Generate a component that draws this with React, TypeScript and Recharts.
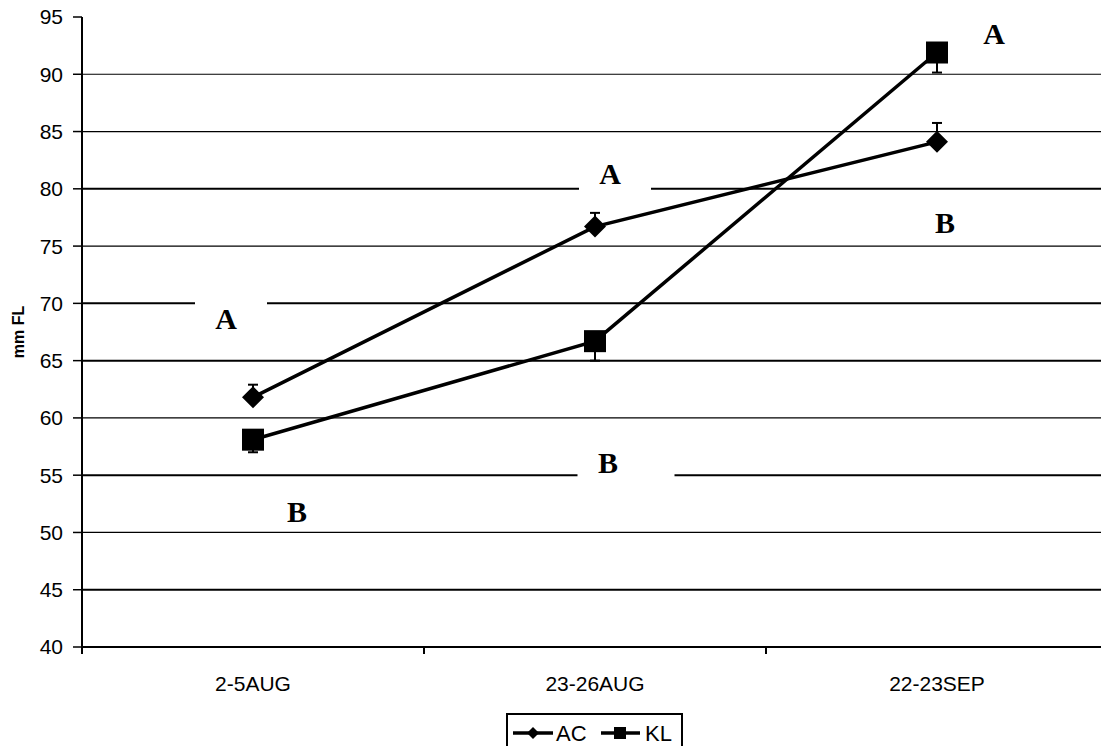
import React from 'react';
import { LineChart, Line, XAxis, YAxis, ErrorBar, ReferenceLine, ReferenceDot, Legend } from 'recharts';

// ---- data ----
const categories = ['2-5AUG', '23-26AUG', '22-23SEP'];
const categoryPositions = [0.5, 1.5, 2.5];
const acValues = [61.8, 76.7, 84.1];
const acErrUp = [1.1, 1.2, 1.65];
const klValues = [58.1, 66.7, 91.9];
const klErrDown = [1.1, 1.7, 1.75];
const yTicks = [40, 45, 50, 55, 60, 65, 70, 75, 80, 85, 90, 95];
const gridValues = [45, 50, 55, 60, 65, 70, 75, 80, 85, 90];
const xTicks = [0, 0.5, 1, 1.5, 2, 2.5, 3];

// significance letters (text, category position, value)
const letterTexts = ['A', 'B', 'A', 'B', 'A', 'B'];
const letterCategory = [0.5, 0.5, 1.5, 1.5, 2.5, 2.5];
const letterValues = [68.7, 51.8, 81.3, 56.15, 93.6, 77.1];

// ---- styles ----
const thickGrid = [45, 55, 65, 70, 80];
const letterOffsets = [
  { dx: -27, boxDx: -22, boxW: 72 },
  { dx: 44, boxDx: 44, boxW: 36 },
  { dx: 15, boxDx: 20, boxW: 72 },
  { dx: 13, boxDx: 31, boxW: 97 },
  { dx: 57, boxDx: 57, boxW: 36 },
  { dx: 8, boxDx: 8, boxW: 36 },
];
const SANS = '"Liberation Sans", Arial, sans-serif';
const SERIF = '"Liberation Serif", "Times New Roman", serif';

const data = categories.map((name, i) => ({
  name,
  pos: categoryPositions[i],
  AC: acValues[i],
  acErr: [0, acErrUp[i]],
  KL: klValues[i],
  klErr: [klErrDown[i], 0],
}));

const letters = letterTexts.map((text, i) => ({
  text,
  pos: letterCategory[i],
  y: letterValues[i],
}));

const DiamondDot = (props: any) => {
  const { cx, cy, index } = props;
  if (cx == null || cy == null) return <g key={index} />;
  const r = 11;
  return (
    <polygon
      key={`d${index}`}
      points={`${cx},${cy - r} ${cx + r},${cy} ${cx},${cy + r} ${cx - r},${cy}`}
      fill="#000"
    />
  );
};

const SquareDot = (props: any) => {
  const { cx, cy, index } = props;
  if (cx == null || cy == null) return <g key={index} />;
  const h = 11;
  return <rect key={`s${index}`} x={cx - h} y={cy - h} width={2 * h} height={2 * h} fill="#000" />;
};

const XTick = (props: any) => {
  const { x, y, payload } = props;
  const v = payload.value;
  if (Number.isInteger(v)) {
    return <line x1={x} y1={y} x2={x} y2={y + 7} stroke="#000" strokeWidth={2} />;
  }
  const idx = categoryPositions.indexOf(v);
  return (
    <text x={x} y={y + 44} textAnchor="middle" fill="#000" fontSize={21} fontFamily={SANS}>
      {categories[idx]}
    </text>
  );
};

const YLabel = (props: any) => {
  const vb = props.viewBox || {};
  const cx = (vb.x ?? 0) + 18;
  const cy = (vb.y ?? 0) + (vb.height ?? 0) / 2;
  return (
    <text
      x={cx}
      y={cy}
      transform={`rotate(-90, ${cx}, ${cy})`}
      textAnchor="middle"
      dominantBaseline="central"
      fontSize={16}
      fontWeight="bold"
      fontFamily={SANS}
      fill="#000"
    >
      mm FL
    </text>
  );
};

const makeLetterShape = (i: number) => (props: any) => {
  const { cx, cy } = props;
  const o = letterOffsets[i];
  return (
    <g>
      <rect x={cx + o.boxDx - o.boxW / 2} y={cy - 18} width={o.boxW} height={36} fill="#fff" />
      <text
        x={cx + o.dx}
        y={cy}
        textAnchor="middle"
        dominantBaseline="central"
        fontSize={30}
        fontWeight="bold"
        fontFamily={SERIF}
        fill="#000"
      >
        {letters[i].text}
      </text>
    </g>
  );
};

const LegendContent = () => (
  <svg width={177} height={40} style={{ display: 'block' }}>
    <rect x={1} y={1} width={175} height={50} fill="#fff" stroke="#000" strokeWidth={2} />
    <line x1={7} y1={20} x2={47} y2={20} stroke="#000" strokeWidth={3.5} />
    <polygon points="27,14 33,20 27,26 21,20" fill="#000" />
    <text x={50} y={28} fontSize={22} fontFamily={SANS} fill="#000">AC</text>
    <line x1={95} y1={20} x2={134} y2={20} stroke="#000" strokeWidth={3.5} />
    <rect x={108} y={14} width={12} height={12} fill="#000" />
    <text x={139} y={28} fontSize={22} fontFamily={SANS} fill="#000">KL</text>
  </svg>
);

export default function App() {
  return (
    <div
      style={{
        position: 'absolute',
        left: 0,
        top: 0,
        width: 1101,
        height: 746,
        overflow: 'hidden',
        background: '#fff',
      }}
    >
      <LineChart
        width={1110}
        height={746}
        data={data}
        margin={{ top: 17, right: 2, bottom: 0, left: 0 }}
      >
        <XAxis
          dataKey="pos"
          type="number"
          domain={[0, 3]}
          ticks={xTicks}
          interval={0}
          tickLine={false}
          tickSize={0}
          tickMargin={0}
          axisLine={{ stroke: '#000', strokeWidth: 2 }}
          tick={<XTick />}
          height={99}
        />
        <YAxis
          type="number"
          domain={[40, 95]}
          ticks={yTicks}
          interval={0}
          width={82}
          tickSize={9}
          tickMargin={10}
          axisLine={{ stroke: '#000', strokeWidth: 2 }}
          tickLine={{ stroke: '#000', strokeWidth: 1.5 }}
          tick={{ fill: '#000', fontSize: 21, fontFamily: SANS }}
          label={<YLabel />}
        />
        {gridValues.map((v) => (
          <ReferenceLine
            key={`g${v}`}
            y={v}
            stroke="#000"
            strokeWidth={thickGrid.includes(v) ? 2 : 1.2}
          />
        ))}
        {letters.map((l, i) => (
          <ReferenceDot
            key={`l${i}`}
            x={l.pos}
            y={l.y}
            r={1}
            ifOverflow="visible"
            shape={makeLetterShape(i)}
          />
        ))}
        <Line
          dataKey="AC"
          type="linear"
          stroke="#000"
          strokeWidth={3.5}
          dot={DiamondDot}
          activeDot={false}
          isAnimationActive={false}
          legendType="diamond"
        >
          <ErrorBar dataKey="acErr" width={5} stroke="#000" strokeWidth={2} direction="y" />
        </Line>
        <Line
          dataKey="KL"
          type="linear"
          stroke="#000"
          strokeWidth={3.5}
          dot={SquareDot}
          activeDot={false}
          isAnimationActive={false}
          legendType="square"
        >
          <ErrorBar dataKey="klErr" width={5} stroke="#000" strokeWidth={2} direction="y" />
        </Line>
        <Legend
          layout="horizontal"
          verticalAlign="middle"
          align="center"
          content={<LegendContent />}
          wrapperStyle={{ position: 'absolute', left: 506, top: 713, width: 177, height: 40 }}
        />
      </LineChart>
    </div>
  );
}
